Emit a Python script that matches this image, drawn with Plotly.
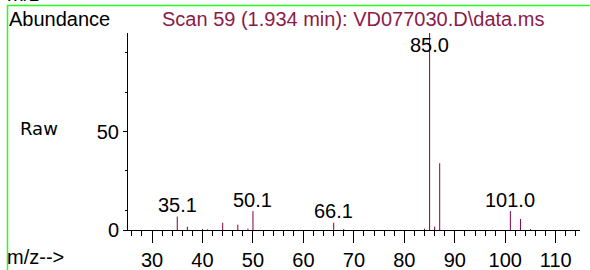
import plotly.graph_objects as go

# m/z values and relative abundances (base peak = 100)
mz = [35, 37, 40, 41, 44, 47, 49, 50, 66, 68, 84, 85, 86, 87, 101, 103, 105]
abund = [6.8, 1.7, 0.5, 0.3, 3.7, 2.7, 0.7, 9.6, 3.7, 0.5, 0.7, 100, 1.7, 33.9, 9.6, 5.6, 0.5]

label_mz = [35.1, 50.1, 66.1, 85.0, 101.0]
label_pos = [35, 50, 66, 85, 101]
label_abund = [6.8, 9.6, 3.7, 100, 9.6]

title_text = "Scan 59 (1.934 min): VD077030.D\\data.ms"
x_range = [25.24, 114.8]
y_range = [0, 100]

PEAK_COLOR = "#800040"
FONT = "Liberation Sans, Arial, sans-serif"
GREEN = "#22ff22"

xs, ys = [], []
for m, a in zip(mz, abund):
    xs += [m, m, None]
    ys += [0, a, None]

fig = go.Figure()
fig.add_trace(go.Scatter(x=xs, y=ys, mode="lines",
                         line=dict(color=PEAK_COLOR, width=1),
                         hoverinfo="skip", showlegend=False))

annotations = []
for lbl, pos, a in zip(label_mz, label_pos, label_abund):
    top = a >= 99
    annotations.append(dict(
        x=pos, y=a, xref="x", yref="y", text=f"{lbl:.1f}",
        showarrow=False, xanchor="center", yanchor="middle",
        yshift=-12 if top else 11.5,
        font=dict(family=FONT, size=20, color="black")))

W, H = 590, 270
L, R, T, B = 128, 10, 33, 40
pw, ph = W - L - R, H - T - B

def px(x):
    return (x - L) / pw

def py(y):
    return (H - B - y) / ph

annotations += [
    dict(x=px(353), y=py(19), xref="paper", yref="paper", text=title_text,
         showarrow=False, xanchor="center", yanchor="middle",
         font=dict(family=FONT, size=20, color="#8b1a4a")),
    dict(x=px(7), y=py(19), xref="paper", yref="paper", text="Abundance",
         showarrow=False, xanchor="left", yanchor="middle",
         font=dict(family=FONT, size=20, color="black")),
    dict(x=px(18), y=py(128), xref="paper", yref="paper", text="Raw",
         showarrow=False, xanchor="left", yanchor="middle",
         font=dict(family="DejaVu Sans", size=18, color="black")),
    dict(x=px(5), y=py(257), xref="paper", yref="paper", text="m/z-->",
         showarrow=False, xanchor="left", yanchor="middle",
         font=dict(family=FONT, size=20, color="black")),
    dict(x=px(5), y=py(-6), xref="paper", yref="paper", text="m/z-->",
         showarrow=False, xanchor="left", yanchor="middle",
         font=dict(family=FONT, size=20, color="black")),
]

shapes = [
    dict(type="line", xref="paper", yref="paper", x0=px(7.5), x1=px(7.5),
         y0=py(5), y1=py(275), line=dict(color=GREEN, width=1.5), layer="above"),
    dict(type="line", xref="paper", yref="paper", x0=px(7), x1=px(595),
         y0=py(5.5), y1=py(5.5), line=dict(color=GREEN, width=1.5), layer="above"),
]

fig.update_layout(
    width=W, height=H,
    margin=dict(l=L, r=R, t=T, b=B, pad=0, autoexpand=False),
    plot_bgcolor="white", paper_bgcolor="white",
    annotations=annotations, shapes=shapes,
    font=dict(family=FONT, size=20, color="black"),
    xaxis=dict(range=x_range, showgrid=False, zeroline=False, automargin=False,
               showline=True, linecolor="black", linewidth=1,
               ticks="outside", ticklen=12, tickcolor="black", tickwidth=1,
               tick0=0, dtick=10,
               minor=dict(ticks="outside", ticklen=5, dtick=2, tick0=0,
                          tickcolor="black", showgrid=False),
               tickfont=dict(family=FONT, size=20, color="black")),
    yaxis=dict(range=y_range, showgrid=False, zeroline=False, automargin=False,
               showline=True, linecolor="black", linewidth=1,
               ticks="outside", ticklen=4, tickcolor="black", tickwidth=1,
               tickvals=[0, 50], ticktext=["0", "50"],
               minor=dict(ticks="outside", ticklen=2, tickvals=[10, 30, 70, 90],
                          tickcolor="black", showgrid=False),
               tickfont=dict(family=FONT, size=20, color="black")),
)

fig.write_html("out.html", config={"displayModeBar": False},
               post_script="document.body.style.margin='0';document.body.style.overflow='hidden';")
